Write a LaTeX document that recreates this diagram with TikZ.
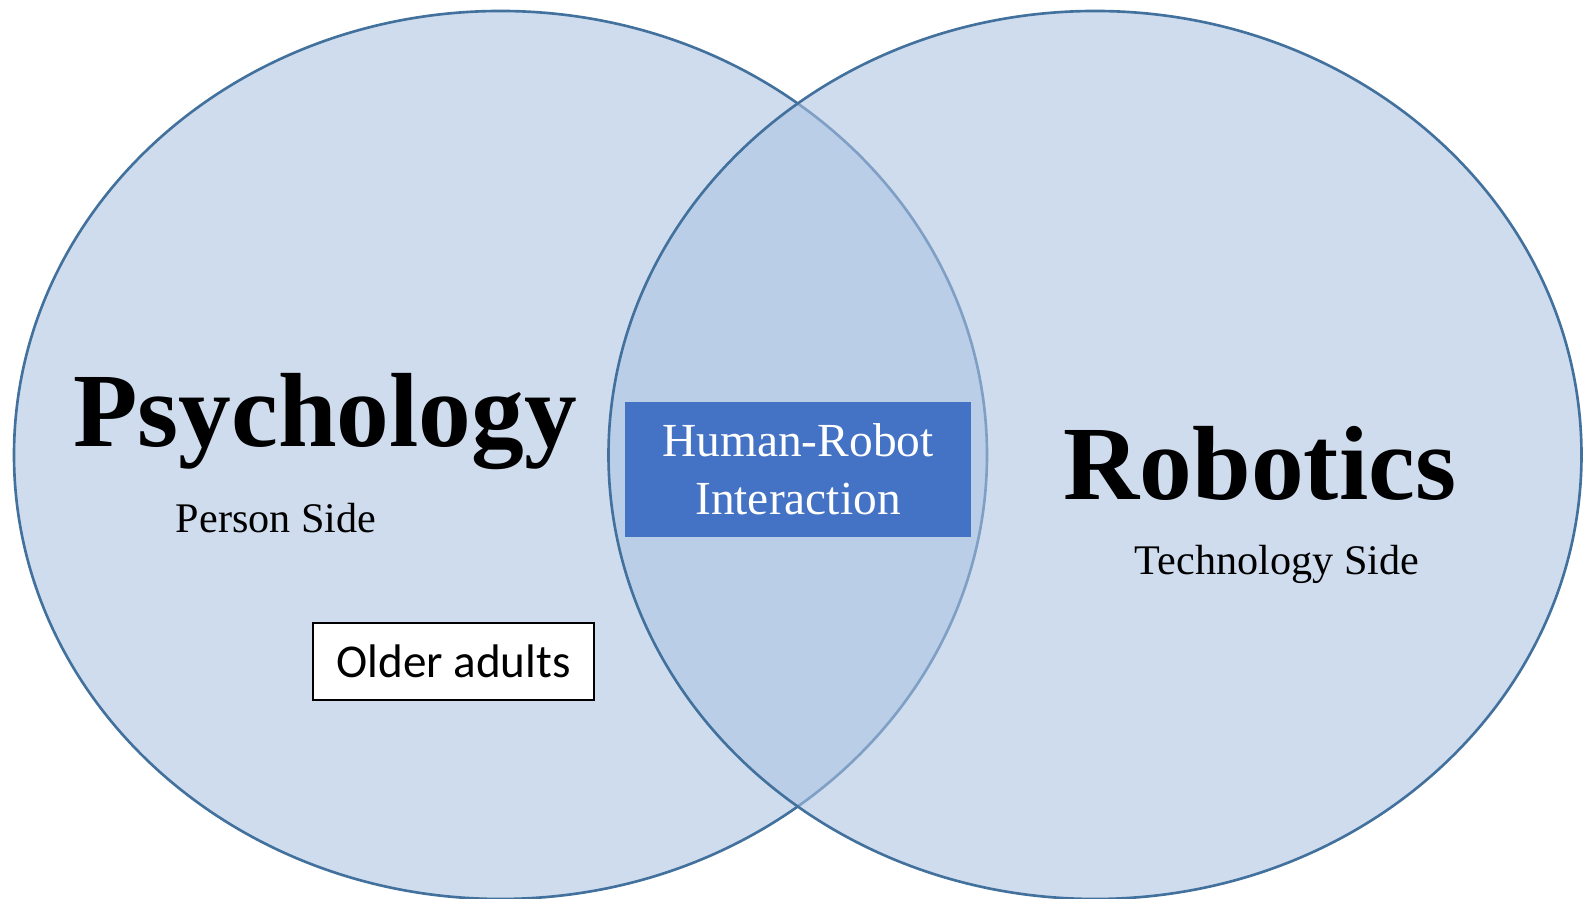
\documentclass[tikz,border=0pt]{standalone}
\usepackage{fontspec}
\setmainfont{Liberation Serif}
\newfontfamily\carlito{Carlito}
\usetikzlibrary{shapes.geometric}
\definecolor{VennFill}{HTML}{ADC3E2}
\definecolor{VennLine}{HTML}{41719C}
\definecolor{HRIBlue}{HTML}{4472C4}

\begin{document}
\begin{tikzpicture}[
  field/.style={ellipse,draw=VennLine,line width=0.75pt,fill=VennFill,fill opacity=0.58,draw opacity=1,
                minimum width=9.73cm,minimum height=8.88cm,inner sep=0pt},
  bigname/.style={font=\fontsize{30}{30}\selectfont\bfseries,anchor=base,inner sep=0pt},
  sidename/.style={font=\fontsize{12}{14}\selectfont,anchor=base,inner sep=0pt}]
  \useasboundingbox (0,0) rectangle (15.87,-8.99);
  \node[field] (psy) at (5.005,-4.55) {};
  \node[field] (rob) at (10.95,-4.55) {};
  \node[bigname]  (psyname)  at (3.25,-4.47)  {Psychology};
  \node[sidename] (psyside)  at (2.76,-5.33)  {Person Side};
  \node[bigname]  (robname)  at (12.60,-5.00) {Robotics};
  \node[sidename] (robside)  at (12.77,-5.75) {Technology Side};
  \node[fill=HRIBlue,text=white,minimum width=3.46cm,minimum height=1.35cm,align=center,
        font=\fontsize{13.5}{16.5}\selectfont] (hri) at (7.98,-4.695) {Human-Robot\\Interaction};
  \node[draw,line width=0.8pt,fill=white,minimum width=2.81cm,minimum height=0.77cm,
        font=\carlito\fontsize{13.4}{16}\selectfont] (older) at (4.535,-6.615) {Older adults};
\end{tikzpicture}
\end{document}
